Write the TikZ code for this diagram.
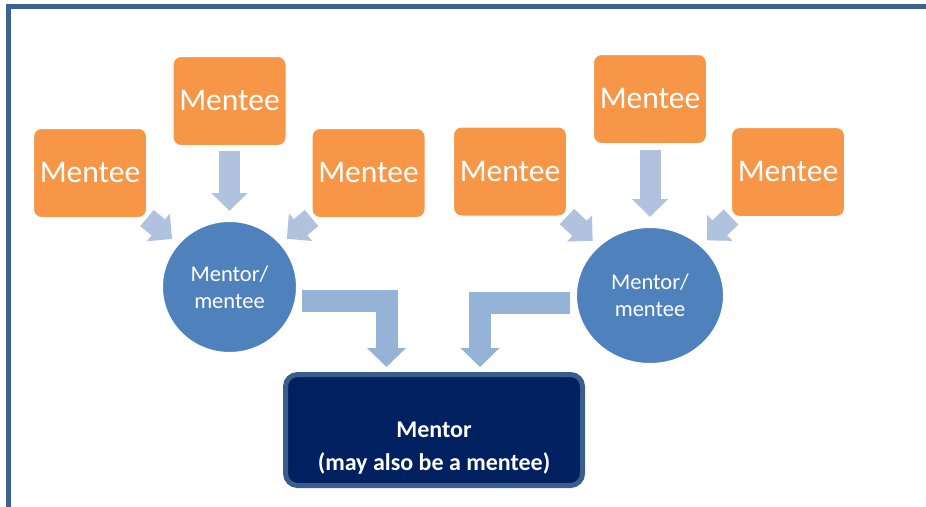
\documentclass[tikz,border=0pt]{standalone}
\usepackage{fontspec}
\setmainfont{Carlito}
\usepackage{tikz}
\usetikzlibrary{positioning, shapes.geometric, arrows.meta, calc, backgrounds}
\definecolor{menteeorange}{HTML}{F79646}
\definecolor{mentorblue}{HTML}{4F81BD}
\definecolor{menteearrow}{HTML}{B0C2DE}
\definecolor{mentorarrow}{HTML}{95B3D7}
\definecolor{mentornavy}{HTML}{002060}
\definecolor{mentoredge}{HTML}{3A5E8C}
\definecolor{frameblue}{HTML}{3C6193}
\tikzset{mentee/.style={
        draw=white,
        line width=1pt,
        rectangle,
        rounded corners=8pt,
        minimum width=113pt,
        minimum height=89pt,
        inner sep=0pt,
        fill=menteeorange,
        text=white,
        font=\fontsize{31.5}{38}\selectfont
}}
\tikzset{midmentor/.style={
        draw=white,
        line width=1pt,
        ellipse,
        inner sep=0pt,
        align=center,
        fill=mentorblue,
        text=white,
        font=\fontsize{22.5}{27}\selectfont
}}
\tikzset{topmentor/.style={
        draw=mentoredge,
        line width=5pt,
        rectangle,
        rounded corners=12pt,
        minimum width=297pt,
        minimum height=111pt,
        fill=mentornavy
}}
\tikzset{menteeedge/.style={draw=menteearrow, line width=21pt, -{Triangle[width=35pt,length=18pt]}}}
\tikzset{mentorflow/.style={draw=mentorarrow, line width=22pt, shorten >=5pt, -{Triangle[width=38pt,length=19pt]}}}

\begin{document}
\begin{tikzpicture}[x=1pt, y=-1pt]
\useasboundingbox (0,0) rectangle (926,506);
\draw[frameblue, line width=5pt] (8.5,520) -- (8.5,6.5) -- (940,6.5);

\node[midmentor, minimum width=134pt, minimum height=131pt] (cl) at (229.5,287) {Mentor/\\mentee};
\node[midmentor, minimum width=147pt, minimum height=136pt] (cr) at (650,295.5) {Mentor/\\mentee};
\node[topmentor, label={[yshift=-18pt, align=center, text=white, font=\fontsize{24}{33}\selectfont\bfseries]center:{Mentor\\(may also be a mentee)}}] (mentor) at (434,430) {};

\node[mentee] (l1) at (90,173) {Mentee};
\node[mentee] (l2) at (229.5,101) {Mentee};
\node[mentee] (l3) at (368.5,173) {Mentee};
\node[mentee] (r1) at (510,171.5) {Mentee};
\node[mentee] (r2) at (650,99) {Mentee};
\node[mentee] (r3) at (788,172) {Mentee};

\begin{scope}[on background layer]
\draw[menteeedge, shorten >=8pt] (l1.south east) -- (cl);
\draw[menteeedge, shorten <=5pt, shorten >=10pt] (l2) -- (cl);
\draw[menteeedge, shorten >=8pt] (l3.south west) -- (cl);
\draw[menteeedge, shorten >=8pt] (r1.south east) -- (cr);
\draw[menteeedge, shorten <=6pt, shorten >=10pt] (r2) -- (cr);
\draw[menteeedge, shorten >=8pt] (r3.south west) -- (cr);
\end{scope}

\draw[mentorflow] ([shift={(5,14)}]cl.east) -| ([xshift=-47.5pt]mentor.north);
\draw[mentorflow] ([shift={(-6,7.5)}]cr.west) -| ([xshift=46pt]mentor.north);
\end{tikzpicture}
\end{document}
